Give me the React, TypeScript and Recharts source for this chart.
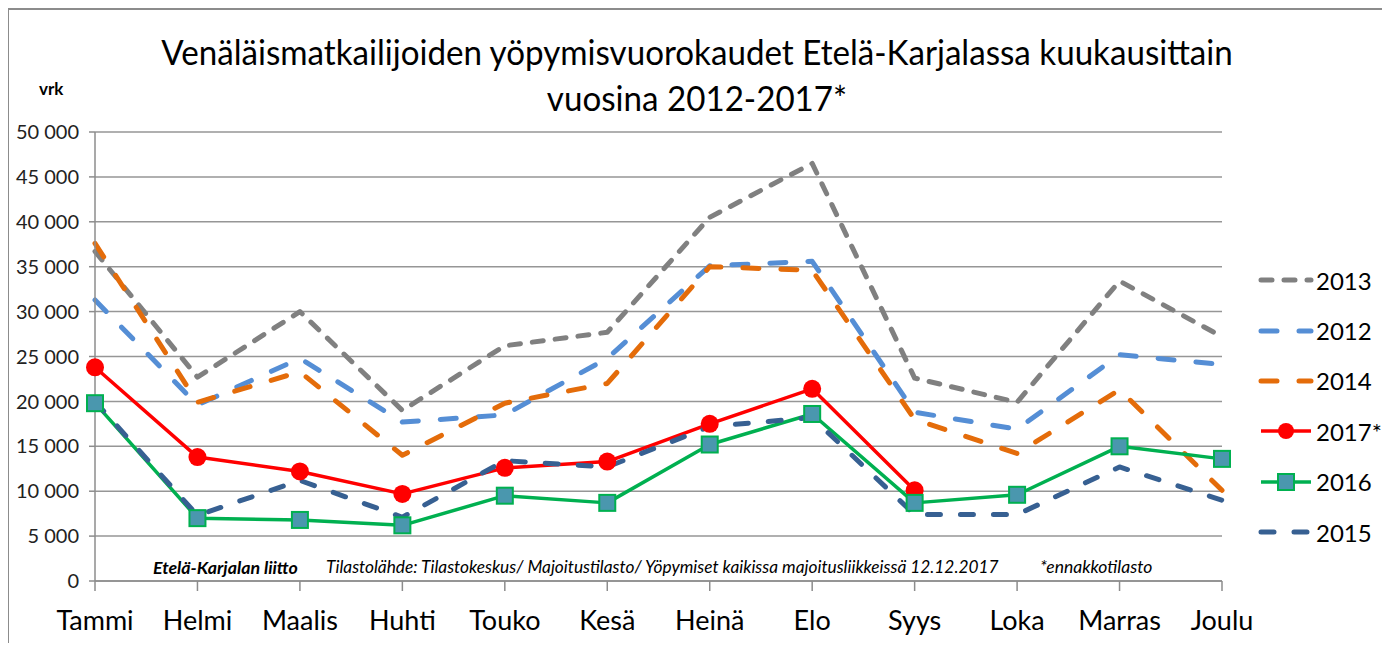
import React from 'react';
import { LineChart, Line, XAxis, YAxis, CartesianGrid } from 'recharts';

const months = ['Tammi', 'Helmi', 'Maalis', 'Huhti', 'Touko', 'Kesä', 'Heinä', 'Elo', 'Syys', 'Loka', 'Marras', 'Joulu'];
const v2013 = [36700, 22700, 30000, 19000, 26200, 27700, 40500, 46500, 22600, 19900, 33400, 27200];
const v2012 = [31300, 19600, 24800, 17700, 18500, 24800, 35100, 35600, 18800, 16900, 25200, 24100];
const v2014 = [37600, 19900, 23300, 14000, 19800, 22000, 35000, 34600, 18000, 14200, 21300, 10100];
const v2017 = [23800, 13800, 12200, 9700, 12600, 13300, 17500, 21400, 10100, null, null, null];
const v2016 = [19800, 7000, 6800, 6200, 9500, 8700, 15200, 18600, 8700, 9600, 15000, 13600];
const v2015 = [20000, 7300, 11200, 7100, 13400, 12700, 17200, 18200, 7400, 7400, 12700, 9000];
const yTicks = [0, 5000, 10000, 15000, 20000, 25000, 30000, 35000, 40000, 45000, 50000];

const data = months.map((m, i) => ({
  month: m,
  y2013: v2013[i],
  y2012: v2012[i],
  y2014: v2014[i],
  y2017: v2017[i],
  y2016: v2016[i],
  y2015: v2015[i],
}));

const FONT = 'Lato, "Open Sans", sans-serif';

const series = [
  { key: 'y2013', name: '2013', color: '#808080', dash: '11 12', width: 5 },
  { key: 'y2012', name: '2012', color: '#558ed5', dash: '16 22', width: 5 },
  { key: 'y2014', name: '2014', color: '#e46c0a', dash: '16 22', width: 5 },
  { key: 'y2017', name: '2017*', color: '#ff0000', dash: undefined, width: 3.5, marker: 'circle' },
  { key: 'y2016', name: '2016', color: '#00b050', dash: undefined, width: 3.5, marker: 'square' },
  { key: 'y2015', name: '2015', color: '#376092', dash: '13 20', width: 5 },
];

const fmt = (v: number) => (v === 0 ? '0' : String(v).replace(/\B(?=(\d{3})+(?!\d))/g, ' '));

const SquareDot = (props: any) => {
  const { cx, cy, index } = props;
  if (cx == null || cy == null) return null;
  return <rect key={index} x={cx - 8} y={cy - 8} width={16} height={16} fill="#4a97ae" stroke="#00b050" strokeWidth={2} />;
};

const Swatch = ({ s }: { s: any }) => (
  <svg width={56} height={20} style={{ display: 'block' }}>
    <line x1={3} y1={10} x2={53} y2={10} stroke={s.color} strokeWidth={s.width} strokeDasharray={s.dash} strokeLinecap={s.dash ? 'round' : 'butt'} />
    {s.marker === 'circle' && <circle cx={28} cy={10} r={8} fill={s.color} />}
    {s.marker === 'square' && <rect x={20} y={2} width={16} height={16} fill="#4a97ae" stroke="#00b050" strokeWidth={2} />}
  </svg>
);

export default function App() {
  return (
    <div style={{ position: 'relative', width: 1374, height: 635, overflow: 'hidden', fontFamily: FONT }}>
      <div style={{ position: 'absolute', left: -1, top: 0, width: 1377, height: 700, border: '2px solid #8c8c8c', boxSizing: 'border-box' }} />
      <div
        style={{
          position: 'absolute',
          left: 0,
          top: 20,
          width: 1378,
          textAlign: 'center',
          fontSize: 35,
          lineHeight: '46px',
          color: '#000',
          transform: 'scaleX(0.947)',
          transformOrigin: '689px 0',
        }}
      >
        Venäläismatkailijoiden yöpymisvuorokaudet Etelä-Karjalassa kuukausittain
        <br />
        vuosina 2012-2017*
      </div>
      <div style={{ position: 'absolute', left: 31, top: 70, fontSize: 17, fontWeight: 'bold' }}>vrk</div>
      <div style={{ position: 'absolute', left: 0, top: 0 }}>
        <LineChart width={1374} height={635} data={data} margin={{ top: 124, right: 160, left: 0, bottom: 4 }}>
          <CartesianGrid horizontal vertical={false} stroke="#969696" strokeWidth={1.5} />
          <XAxis
            dataKey="month"
            interval={0}
            padding={{ left: 0, right: 0 }}
            height={58}
            tickSize={10}
            tickMargin={20}
            stroke="#8c8c8c"
            strokeWidth={1.5}
            tick={{ fill: '#000', fontSize: 27, fontFamily: FONT }}
          />
          <YAxis
            domain={[0, 50000]}
            ticks={yTicks}
            interval={0}
            width={87}
            tickSize={6}
            tickMargin={10}
            stroke="#8c8c8c"
            strokeWidth={1.5}
            tickFormatter={fmt}
            tick={{ fill: '#222', fontSize: 20, fontFamily: FONT }}
          />
          {series.map((s) => (
            <Line
              key={s.key}
              type="linear"
              dataKey={s.key}
              name={s.name}
              stroke={s.color}
              strokeWidth={s.width}
              strokeDasharray={s.dash}
              strokeLinecap={s.dash ? 'round' : 'butt'}
              strokeLinejoin="round"
              connectNulls={false}
              isAnimationActive={false}
              dot={
                s.marker === 'circle'
                  ? { r: 9, fill: s.color, stroke: s.color, strokeWidth: 0 }
                  : s.marker === 'square'
                  ? SquareDot
                  : false
              }
              activeDot={false}
            />
          ))}
        </LineChart>
      </div>
      <div style={{ position: 'absolute', left: 145, top: 548, fontSize: 17.8, fontStyle: 'italic', whiteSpace: 'nowrap' }}>
        <span style={{ fontWeight: 'bold' }}>Etelä-Karjalan liitto</span>
      </div>
      <div style={{ position: 'absolute', left: 318, top: 548, fontSize: 17.3, fontStyle: 'italic', whiteSpace: 'nowrap' }}>
        Tilastolähde: Tilastokeskus/ Majoitustilasto/ Yöpymiset kaikissa majoitusliikkeissä 12.12.2017
      </div>
      <div style={{ position: 'absolute', left: 1032, top: 548, fontSize: 17.5, fontStyle: 'italic', whiteSpace: 'nowrap' }}>
        *ennakkotilasto
      </div>
      <div style={{ position: 'absolute', left: 1250, top: 247 }}>
        {series.map((s) => (
          <div key={s.key} style={{ display: 'flex', alignItems: 'center', height: 50.4 }}>
            <Swatch s={s} />
            <span style={{ fontSize: 24, marginLeft: 2 }}>{s.name}</span>
          </div>
        ))}
      </div>
    </div>
  );
}
